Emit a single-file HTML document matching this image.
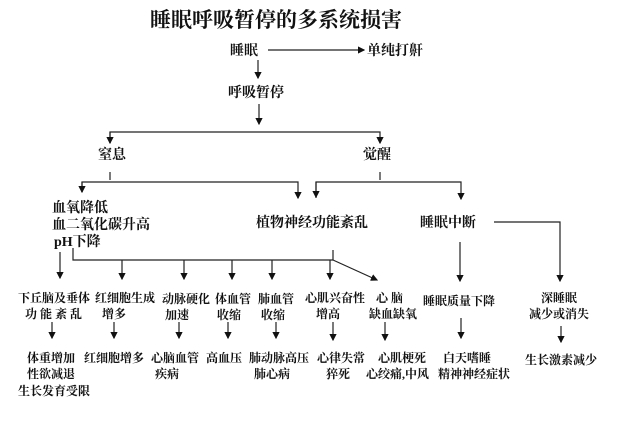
<!DOCTYPE html>
<html><head><meta charset="utf-8"><style>
html,body{margin:0;padding:0;background:#fff;}
svg{display:block;}
text{font-family:"Liberation Serif","Noto Serif CJK SC",serif;fill:#111;font-weight:bold;}
</style></head><body>
<svg width="640" height="422" viewBox="0 0 640 422" xmlns="http://www.w3.org/2000/svg">
<defs><marker id="a" markerWidth="6" markerHeight="6" refX="5" refY="3" orient="auto"><path d="M0,0 L6,3 L0,6 z" fill="#111"/></marker></defs>
<g stroke="#222" stroke-width="1.2" fill="none">
<line x1="268" y1="50" x2="364" y2="50" marker-end="url(#a)"/>
<line x1="258" y1="60" x2="258" y2="78" marker-end="url(#a)"/>
<line x1="259" y1="104" x2="259" y2="124" marker-end="url(#a)"/>
<polyline points="110,143 110,132 380,132 380,143" marker-end="url(#a)"/>
<line x1="110" y1="132" x2="110" y2="143" marker-end="url(#a)"/>
<line x1="110" y1="172" x2="110" y2="180"/>
<line x1="380" y1="172" x2="380" y2="180"/>
<polyline points="82,192 82,182 298,182 298,198" marker-end="url(#a)"/>
<line x1="82" y1="182" x2="82" y2="192" marker-end="url(#a)"/>
<polyline points="316,198 316,182 461,182 461,199" marker-end="url(#a)"/>
<line x1="316" y1="182" x2="316" y2="197" marker-end="url(#a)"/>
<polyline points="494,222 560,222 560,281" marker-end="url(#a)"/>
<line x1="460" y1="242" x2="460" y2="281" marker-end="url(#a)"/>
<line x1="60" y1="252" x2="60" y2="278" marker-end="url(#a)"/>
<polyline points="73,248 73,260 333,260"/>
<line x1="333" y1="250" x2="333" y2="260"/>
<line x1="333" y1="260" x2="377" y2="280" marker-end="url(#a)"/>
<line x1="122" y1="260" x2="122" y2="279" marker-end="url(#a)"/>
<line x1="184" y1="260" x2="184" y2="279" marker-end="url(#a)"/>
<line x1="232" y1="260" x2="232" y2="279" marker-end="url(#a)"/>
<line x1="272" y1="260" x2="272" y2="279" marker-end="url(#a)"/>
<line x1="330" y1="260" x2="330" y2="279" marker-end="url(#a)"/>
<line x1="52" y1="322" x2="52" y2="338" marker-end="url(#a)"/>
<line x1="114" y1="322" x2="114" y2="338" marker-end="url(#a)"/>
<line x1="179" y1="322" x2="179" y2="338" marker-end="url(#a)"/>
<line x1="228" y1="322" x2="228" y2="338" marker-end="url(#a)"/>
<line x1="276" y1="322" x2="276" y2="338" marker-end="url(#a)"/>
<line x1="333" y1="322" x2="333" y2="340" marker-end="url(#a)"/>
<line x1="385" y1="322" x2="385" y2="340" marker-end="url(#a)"/>
<line x1="461" y1="318" x2="461" y2="338" marker-end="url(#a)"/>
<line x1="561" y1="326" x2="561" y2="342" marker-end="url(#a)"/>
</g>
<text x="150" y="27" font-size="21">睡眠呼吸暂停的多系统损害</text>
<g font-size="14">
<text x="230" y="55">睡眠</text>
<text x="367" y="55">单纯打鼾</text>
<text x="228" y="97">呼吸暂停</text>
<text x="98" y="159">窒息</text>
<text x="363" y="159">觉醒</text>
<text x="52" y="212">血氧降低</text>
<text x="52" y="229">血二氧化碳升高</text>
<text x="54" y="246">pH下降</text>
<text x="256" y="227">植物神经功能紊乱</text>
<text x="420" y="227">睡眠中断</text>
</g>
<g font-size="12">
<text x="18" y="302">下丘脑及垂体</text>
<text x="25" y="318">功 能 紊 乱</text>
<text x="95" y="302">红细胞生成</text>
<text x="102" y="318">增多</text>
<text x="162" y="303">动脉硬化</text>
<text x="165" y="319">加速</text>
<text x="215" y="303">体血管</text>
<text x="217" y="319">收缩</text>
<text x="258" y="303">肺血管</text>
<text x="261" y="319">收缩</text>
<text x="305" y="302">心肌兴奋性</text>
<text x="316" y="318">增高</text>
<text x="376" y="302">心 脑</text>
<text x="369" y="318">缺血缺氧</text>
<text x="423" y="305">睡眠质量下降</text>
<text x="541" y="302">深睡眠</text>
<text x="529" y="318">减少或消失</text>
<text x="27" y="362">体重增加</text>
<text x="27" y="378">性欲减退</text>
<text x="18" y="395">生长发育受限</text>
<text x="84" y="362">红细胞增多</text>
<text x="151" y="362">心脑血管</text>
<text x="155" y="378">疾病</text>
<text x="206" y="362">高血压</text>
<text x="249" y="362">肺动脉高压</text>
<text x="254" y="378">肺心病</text>
<text x="317" y="362">心律失常</text>
<text x="326" y="378">猝死</text>
<text x="378" y="362">心肌梗死</text>
<text x="366" y="378">心绞痛,中风</text>
<text x="443" y="362">白天嗜睡</text>
<text x="438" y="378">精神神经症状</text>
<text x="525" y="364">生长激素减少</text>
</g>
</svg>
</body></html>
